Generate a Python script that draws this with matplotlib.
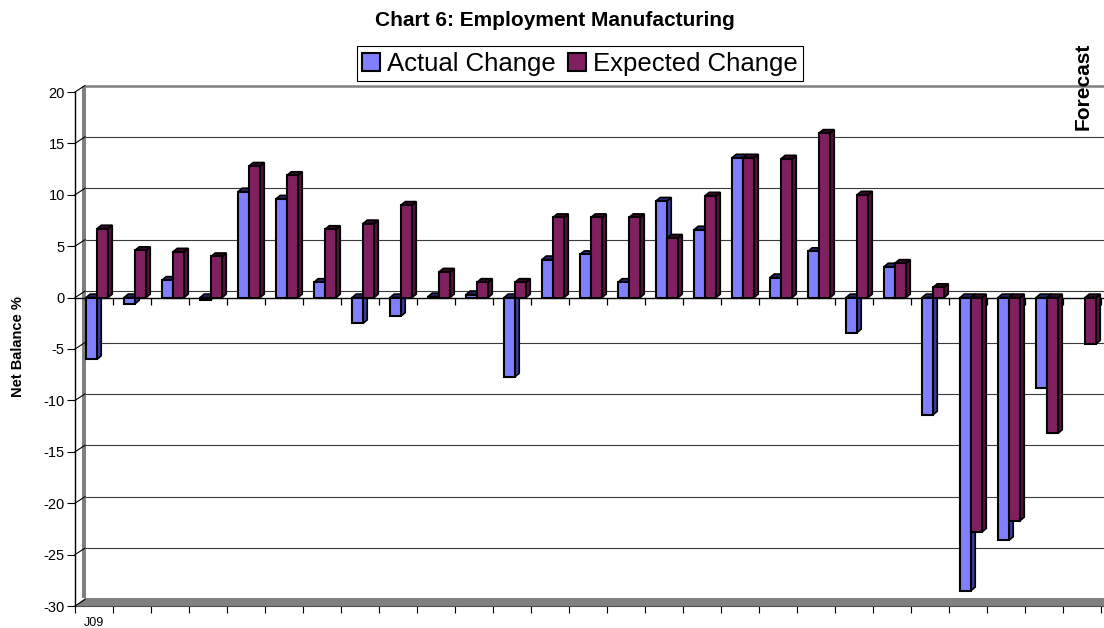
import numpy as np
import matplotlib
matplotlib.use("Agg")
import matplotlib.pyplot as plt
from matplotlib.patches import Rectangle, Polygon, Patch

# ---------------- data ----------------
categories = ["J09"] + [""] * 26
actual = [-6.0, -0.6, 1.7, -0.2, 10.3, 9.6, 1.5, -2.5, -1.8, 0.1, 0.3, -7.7,
          3.7, 4.2, 1.5, 9.4, 6.6, 13.6, 1.95, 4.5, -3.4, 3.0, -11.4, -28.5,
          -23.6, -8.8, np.nan]
expected = [6.7, 4.6, 4.45, 4.0, 12.8, 11.9, 6.65, 7.2, 9.0, 2.5, 1.5, 1.5,
            7.8, 7.8, 7.8, 5.8, 9.9, 13.6, 13.5, 16.0, 10.0, 3.35, 1.0, -22.8,
            -21.7, -13.2, -4.5]
series_names = ["Actual Change", "Expected Change"]
yticks = list(range(-30, 25, 5))

plt.rcParams['font.family'] = ['Liberation Sans', 'DejaVu Sans']

W, H = 1104, 628
fig = plt.figure(figsize=(W / 100, H / 100), dpi=100)
ax = fig.add_axes([75 / W, (H - 606) / H, (W - 75) / W, (606 - 92) / H])
slot_px = 38.0
xmax = (W - 75) / slot_px
ax.set_xlim(0, xmax)
ax.set_ylim(-30, 20)
ux = 1 / slot_px          # data units per pixel (x)
uy = 50 / (606 - 92)      # data units per pixel (y)

# ---------------- walls / floor / grid ----------------
dxw, dyw = 10 * ux, 6.5 * uy
floor_h = 7.7 * uy
ax.add_patch(Polygon([(0, -30), (xmax + 1, -30), (xmax + 1, -30 + floor_h),
                      (dxw, -30 + floor_h)], closed=True, facecolor='#808080',
                     edgecolor='none', zorder=1, clip_on=False))
ax.add_patch(Rectangle((7 * ux, -30 + floor_h), 4 * ux, 50 + dyw - floor_h,
                       facecolor='#808080', edgecolor='none', zorder=1,
                       clip_on=False))
for v in yticks:
    if v == 20:
        ax.plot([dxw, xmax], [v + dyw, v + dyw], color='#808080', lw=1.8,
                zorder=1, clip_on=False, solid_capstyle='butt')
    elif v > -30:
        ax.plot([dxw + 1 * ux, xmax], [v + dyw, v + dyw], color='#3a3a3a',
                lw=0.8, zorder=1, clip_on=False)
    ax.plot([0, dxw], [v, v + dyw], color='black', lw=0.8, zorder=2,
            clip_on=False)

# front zero (category) line with ticks
ax.plot([0, xmax], [0, 0], color='black', lw=1.0, zorder=2)
ax.vlines(np.arange(1, len(categories) + 1), -7 * uy, 0, color='black',
          lw=0.9, zorder=2)

# ---------------- 3D-ish bars ----------------
bw = 0.29
ddx, ddy = 4.2 * ux, 3.5 * uy
styles = [('#8080FF', '#3C3C9E', '#26266E'),
          ('#802060', '#4D1339', '#35092A')]


def draw_bar(x0, v, face, side, top):
    if v is None or np.isnan(v):
        return
    y0, y1 = min(0, v), max(0, v)
    ax.add_patch(Polygon([(x0 + bw, y0), (x0 + bw + ddx, y0 + ddy),
                          (x0 + bw + ddx, y1 + ddy), (x0 + bw, y1)],
                         closed=True, facecolor=side, edgecolor='black',
                         lw=1.2, zorder=3))
    ax.add_patch(Polygon([(x0, y1), (x0 + ddx, y1 + ddy),
                          (x0 + bw + ddx, y1 + ddy), (x0 + bw, y1)],
                         closed=True, facecolor=top, edgecolor='black',
                         lw=1.2, zorder=3))
    ax.add_patch(Rectangle((x0, y0), bw, y1 - y0, facecolor=face,
                           edgecolor='black', lw=1.5, zorder=3))


for i in range(len(categories)):
    for j, vals in enumerate([actual, expected]):
        face, side, top = styles[j]
        draw_bar(i + 0.29 + j * bw, vals[i], face, side, top)

# ---------------- axes styling ----------------
for s in ['top', 'right']:
    ax.spines[s].set_visible(False)
ax.spines['bottom'].set_color('#505050')
ax.spines['bottom'].set_linewidth(0.8)
ax.spines['left'].set_color('black')
ax.spines['left'].set_linewidth(1.0)
ax.spines['left'].set_zorder(4)

ax.set_yticks(yticks)
ax.set_yticklabels([str(t) for t in yticks])
ax.tick_params(axis='y', direction='out', length=5.8, width=0.8, pad=1.5,
               labelsize=10.5, colors='black')
ax.set_xticks(np.arange(0, len(categories) + 1))
ax.set_xticklabels([])
ax.set_xticks(np.arange(len(categories)) + 0.5, minor=True)
ax.set_xticklabels(categories, minor=True)
ax.tick_params(axis='x', which='major', direction='out', length=5, width=0.8)
ax.tick_params(axis='x', which='minor', length=0, pad=8.0, labelsize=9)

# ---------------- text ----------------
fig.text(555 / W, 1 - 26 / H, "Chart 6: Employment Manufacturing",
         ha='center', va='baseline', fontsize=15, weight='bold')
fig.text(18 / W, 1 - 347 / H, "Net Balance %", rotation=90, ha='center',
         va='center', fontsize=10.5, weight='bold')
fig.text(1083 / W, 1 - 86 / H, "Forecast", rotation=90, ha='center',
         va='center', fontsize=15, weight='bold')

handles = [Patch(facecolor=styles[0][0], edgecolor='black', lw=1.5),
           Patch(facecolor=styles[1][0], edgecolor='black', lw=1.5)]
leg = fig.legend(handles, series_names, loc='center',
                 bbox_to_anchor=(580 / W, 1 - 63.5 / H), ncol=2,
                 fontsize=18.5, frameon=True, fancybox=False,
                 edgecolor='black', handlelength=0.7, handleheight=0.7,
                 handletextpad=0.25, columnspacing=0.5, borderpad=0.2,
                 borderaxespad=0)
leg.get_frame().set_linewidth(0.8)
leg.get_frame().set_alpha(1)

fig.savefig("out.png", dpi=100)
